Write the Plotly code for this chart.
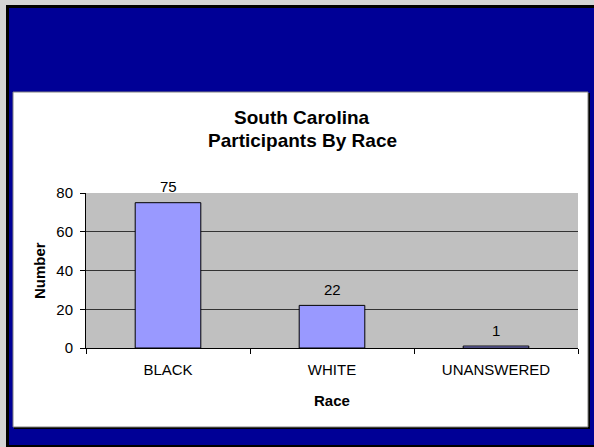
import plotly.graph_objects as go

categories = ["BLACK", "WHITE", "UNANSWERED"]
values = [75, 22, 1]
y_ticks = [0, 20, 40, 60, 80]
title_lines = ["South Carolina", "Participants By Race"]
x_title = "Race"
y_title = "Number"

W, H = 594, 447
L, R, T, B = 86, 578, 193, 348  # plot area in pixels

def px(x):
    return (x - L) / (R - L)

def py(y):
    return (B - y) / (B - T)

def rect(x0, y0, x1, y1, fill, line=None, lw=0):
    return dict(type="rect", xref="paper", yref="paper", layer="below",
                x0=px(x0), x1=px(x1), y0=py(y1), y1=py(y0),
                fillcolor=fill, line=dict(color=line or fill, width=lw))

FONT = "Arial, 'Liberation Sans', sans-serif"
NAVY = "#000096"

shapes = [
    rect(0, 0, W, H, "#d4d4d4"),
    rect(6, 5, W + 2, H + 2, "#000000"),
    rect(9, 8, W + 2, 445, NAVY),
    rect(14, 93, 590, 429, "#000000"),
    rect(13, 92, 588, 427, "#ffffff", "#808080", 1),
    rect(L, T, R, B, "#c0c0c0"),
]

fig = go.Figure()
fig.add_trace(go.Bar(
    x=categories, y=values, width=0.4,
    marker=dict(color="#9999ff", line=dict(color="#000000", width=1)),
    cliponaxis=False, hoverinfo="skip",
))

annotations = []
for c, v in zip(categories, values):
    annotations.append(dict(x=c, y=v, xref="x", yref="y", text=str(v),
                            showarrow=False, yanchor="middle", yshift=16,
                            font=dict(family=FONT, size=15, color="#000000")))
annotations.append(dict(x=px(302), y=py(117), xref="paper", yref="paper",
                        text="<b>" + title_lines[0] + "</b>", showarrow=False,
                        xanchor="center", yanchor="middle",
                        font=dict(family=FONT, size=19, color="#000000")))
annotations.append(dict(x=px(302), y=py(140), xref="paper", yref="paper",
                        text="<b>" + title_lines[1] + "</b>", showarrow=False,
                        xanchor="center", yanchor="middle",
                        font=dict(family=FONT, size=19, color="#000000")))
annotations.append(dict(x=px(332), y=py(400), xref="paper", yref="paper",
                        text="<b>" + x_title + "</b>", showarrow=False,
                        xanchor="center", yanchor="middle",
                        font=dict(family=FONT, size=15, color="#000000")))
annotations.append(dict(x=px(39), y=py(271), xref="paper", yref="paper",
                        text="<b>" + y_title + "</b>", showarrow=False,
                        textangle=-90, xanchor="center", yanchor="middle",
                        font=dict(family=FONT, size=15, color="#000000")))

fig.update_layout(
    width=W, height=H,
    margin=dict(l=L, r=W - R, t=T, b=H - B, pad=0),
    paper_bgcolor="#d4d4d4",
    plot_bgcolor="rgba(0,0,0,0)",
    shapes=shapes,
    annotations=annotations,
    showlegend=False,
    font=dict(family=FONT, size=15, color="#000000"),
    xaxis=dict(type="category", showgrid=False, showline=True, linecolor="#000000",
               linewidth=1, ticks="outside", tickson="boundaries", ticklen=5,
               tickcolor="#000000", tickfont=dict(family=FONT, size=15),
               ticklabelstandoff=8, zeroline=False),
    yaxis=dict(range=[0, 80], tickvals=y_ticks, showgrid=True, gridcolor="#333333",
               gridwidth=1, showline=True, linecolor="#000000", linewidth=1,
               ticks="outside", ticklen=5, tickcolor="#000000",
               tickfont=dict(family=FONT, size=15), zeroline=False,
               ticklabelstandoff=4),
)

fig.write_html("out.html", config={"displayModeBar": False},
               post_script="document.body.style.margin='0';document.body.style.overflow='hidden';")
